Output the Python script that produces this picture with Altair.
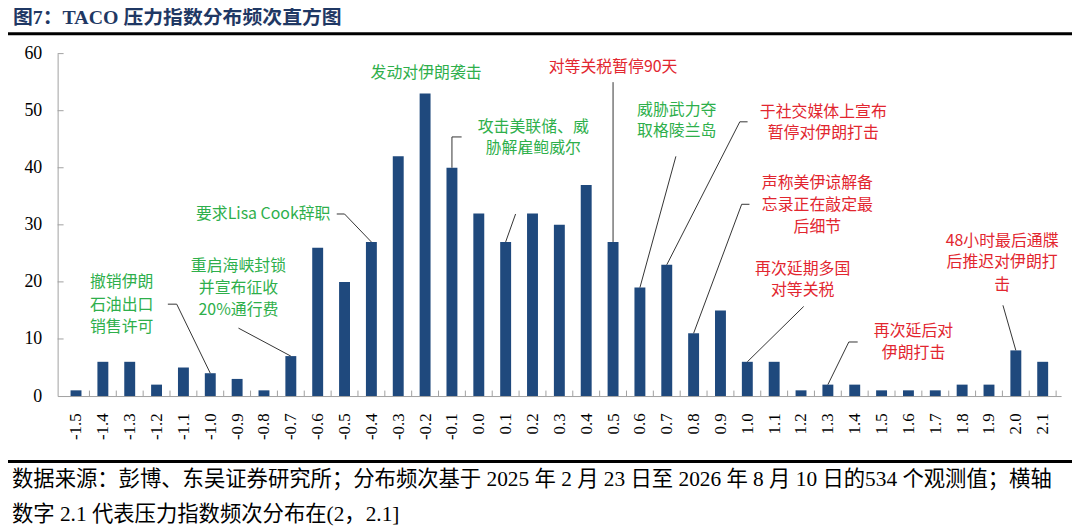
import altair as alt
import pandas as pd

# ---------------- data ----------------
bins = [-1.5, -1.4, -1.3, -1.2, -1.1, -1.0, -0.9, -0.8, -0.7, -0.6, -0.5, -0.4,
        -0.3, -0.2, -0.1, 0.0, 0.1, 0.2, 0.3, 0.4, 0.5, 0.6, 0.7, 0.8, 0.9, 1.0,
        1.1, 1.2, 1.3, 1.4, 1.5, 1.6, 1.7, 1.8, 1.9, 2.0, 2.1]
counts = [1, 6, 6, 2, 5, 4, 3, 1, 7, 26, 20, 27,
          42, 53, 40, 32, 27, 32, 30, 37, 27, 19, 23, 11, 15, 6,
          6, 1, 2, 2, 1, 1, 1, 2, 2, 8, 6]
y_labels = [0, 10, 20, 30, 40, 50, 60]
y_ticks = [10, 20, 30, 40, 50, 60]

title_text = "图7：TACO 压力指数分布频次直方图"
foot_lines = [
    "数据来源：彭博、东吴证券研究所；分布频次基于 2025 年 2 月 23 日至 2026 年 8 月 10 日的534 个观测值；横轴",
    "数字 2.1 代表压力指数频次分布在(2，2.1]",
]

GREEN = "#2EAF4B"
RED = "#E2262F"

# annotation text lines (label, x in index units, y in count units, colour)
ann_text = ["撤销伊朗", "石油出口", "销售许可",
            "重启海峡封锁", "并宣布征收", "20%通行费",
            "要求Lisa Cook辞职",
            "发动对伊朗袭击",
            "攻击美联储、威", "胁解雇鲍威尔",
            "对等关税暂停90天",
            "威胁武力夺", "取格陵兰岛",
            "于社交媒体上宣布", "暂停对伊朗打击",
            "声称美伊谅解备", "忘录正在敲定最", "后细节",
            "再次延期多国", "对等关税",
            "再次延后对", "伊朗打击",
            "48小时最后通牒", "后推迟对伊朗打", "击"]
ann_x = [-1.33, -1.33, -1.33,
         -0.895, -0.895, -0.895,
         -0.803,
         -0.196,
         0.203, 0.203,
         0.50,
         0.737, 0.737,
         1.283, 1.283,
         1.261, 1.261, 1.261,
         1.206, 1.206,
         1.619, 1.619,
         1.949, 1.949, 1.949]
ann_y = [19.9, 16.0, 12.1,
         22.7, 18.85, 15.0,
         31.9,
         56.6,
         47.2, 43.5,
         57.6,
         50.1, 46.5,
         49.8, 46.0,
         37.3, 33.5, 29.6,
         22.3, 18.5,
         11.4, 7.56,
         27.2, 23.4, 19.4]
ann_color = [GREEN] * 3 + [GREEN] * 3 + [GREEN] + [GREEN] + [GREEN] * 2 + [RED] + \
            [GREEN] * 2 + [RED] * 2 + [RED] * 3 + [RED] * 2 + [RED] * 2 + [RED] * 3

# leader lines
line_id = [1, 1, 1, 2, 2, 3, 3, 3, 4, 4, 4, 5, 5, 6, 6, 7, 7,
           8, 8, 8, 9, 9, 9, 10, 10, 11, 11, 11, 12, 12]
line_x = [-1.158, -1.125, -1.0, -0.895, -0.7, -0.529, -0.5, -0.4,
          -0.1, -0.1, -0.064, 0.1, 0.137, 0.5, 0.5, 0.734, 0.6,
          1.001, 0.972, 0.7, 1.008, 0.979, 0.8, 1.21, 1.0,
          1.411, 1.378, 1.3, 1.952, 2.0]
line_y = [16.1, 16.1, 4, 11.9, 7, 31.9, 31.9, 27,
          40, 45.4, 45.4, 27, 31.9, 55.0, 27, 42.0, 19,
          48.05, 48.05, 23, 33.6, 33.6, 11, 15.7, 6,
          9.47, 9.47, 2, 15.9, 8]

# ---------------- frames ----------------
bars_df = pd.DataFrame({"bin": bins, "count": counts})
xt_df = pd.DataFrame({"b": [round(b + 0.05, 2) for b in bins]})
yt_df = pd.DataFrame({"v": y_ticks})
ann_df = pd.DataFrame({"t": ann_text, "x": ann_x, "y": ann_y, "c": ann_color})
line_df = pd.DataFrame({"id": line_id, "x": line_x, "y": line_y,
                        "o": list(range(len(line_id)))})
one = pd.DataFrame({"k": [0]})
foot_df = pd.DataFrame({"t": foot_lines, "row": [0, 1]})

SERIF = "Liberation Serif, Noto Sans CJK SC"
CJK = "Noto Sans CJK SC"
AX = "#A0A0A0"

xscale = alt.Scale(domain=[-1.55, 2.15], nice=False, zero=False)
yscale = alt.Scale(domain=[0, 60], nice=False)

xaxis = alt.Axis(values=bins, labelAngle=270, ticks=False, grid=False,
                 labelExpr="replace(format(datum.value, '.1f'), '\u2212', '-')",
                 labelFont="Liberation Serif", labelFontSize=17,
                 labelColor="#000000", labelPadding=17, labelFlush=False,
                 labelOverlap=False, labelBound=False,
                 domainColor=AX, title=None)
yaxis = alt.Axis(values=y_labels, ticks=False, grid=False,
                 labelFont="Liberation Serif", labelFontSize=18,
                 labelColor="#000000", labelPadding=16, labelOverlap=False,
                 domainColor=AX, title=None)

bars = alt.Chart(bars_df).mark_bar(size=11, color="#1F497D").encode(
    x=alt.X("bin:Q", scale=xscale, axis=xaxis),
    y=alt.Y("count:Q", scale=yscale, axis=yaxis),
)

xticks = alt.Chart(xt_df).mark_rule(color=AX, strokeWidth=1).encode(
    x=alt.X("b:Q", scale=xscale, axis=xaxis), y=alt.value(345), y2=alt.value(339.5))

yticks = alt.Chart(yt_df).mark_rule(color=AX, strokeWidth=1).encode(
    y=alt.Y("v:Q", scale=yscale, axis=yaxis), x=alt.value(0), x2=alt.value(6))

leaders = alt.Chart(line_df).mark_line(color="#333333", strokeWidth=1).encode(
    x=alt.X("x:Q", scale=xscale, axis=xaxis), y=alt.Y("y:Q", scale=yscale, axis=yaxis),
    detail="id:N", order="o:Q")

labels = alt.Chart(ann_df).mark_text(font=CJK, fontSize=16, align="center",
                                     baseline="middle").encode(
    x=alt.X("x:Q", scale=xscale, axis=xaxis), y=alt.Y("y:Q", scale=yscale, axis=yaxis),
    text="t:N", color=alt.Color("c:N", scale=None))

title = alt.Chart(one).mark_text(text=title_text, font="Liberation Serif, Noto Sans CJK SC",
                                 fontWeight="bold", fontSize=20, color="#1F3864",
                                 align="left", baseline="middle").encode(
    x=alt.value(-45), y=alt.value(-36))

top_rule = alt.Chart(one).mark_rule(color="#000000", strokeWidth=3).encode(
    x=alt.value(-50), x2=alt.value(1022), y=alt.value(-20))
bot_rule = alt.Chart(one).mark_rule(color="#000000", strokeWidth=3).encode(
    x=alt.value(-50), x2=alt.value(1022), y=alt.value(411))

foot1 = alt.Chart(foot_df[foot_df.row == 0]).mark_text(
    font=SERIF, fontSize=21.5, color="#000000", align="left", baseline="middle").encode(
    text="t:N", x=alt.value(-46), y=alt.value(430))
foot2 = alt.Chart(foot_df[foot_df.row == 1]).mark_text(
    font=SERIF, fontSize=21.5, color="#000000", align="left", baseline="middle").encode(
    text="t:N", x=alt.value(-46), y=alt.value(465))

chart = alt.layer(bars, xticks, yticks, leaders, labels, title, top_rule, bot_rule,
                  foot1, foot2).properties(
    width=1011, height=345,
    autosize=alt.AutoSizeParams(type="none"),
    padding={"left": 50, "top": 44, "right": 11, "bottom": 133},
    background="#FFFFFF",
).configure_view(stroke=None)

chart.save("out.html", embed_options={"renderer": "svg", "actions": False})
